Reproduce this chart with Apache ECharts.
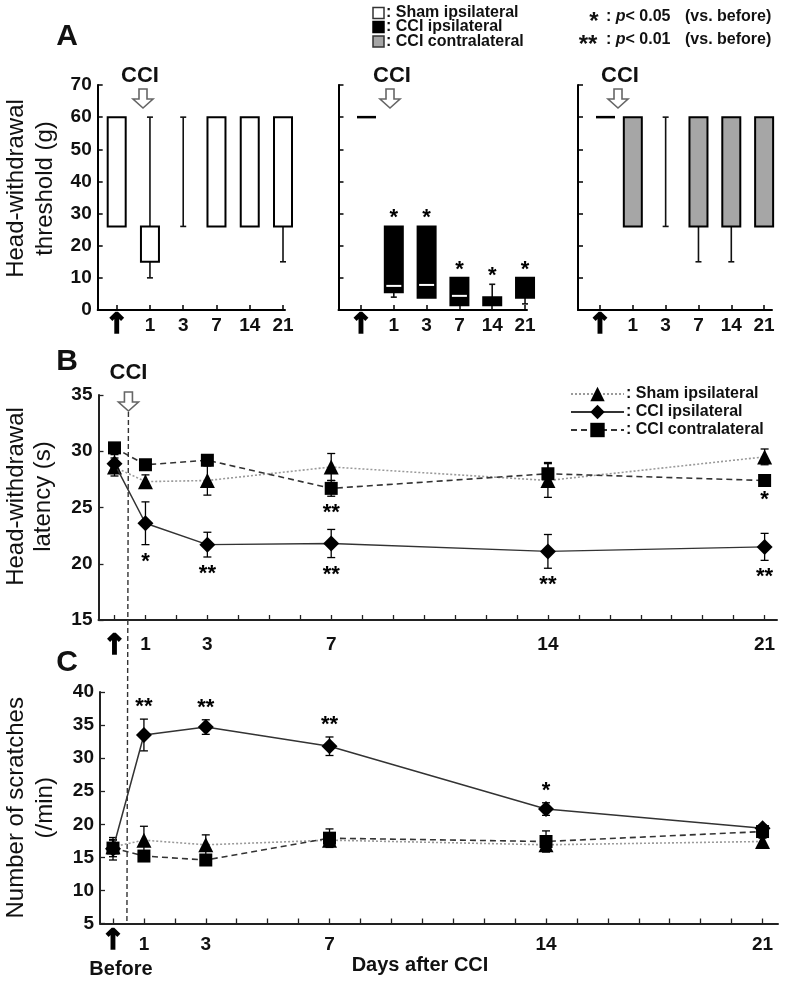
<!DOCTYPE html>
<html><head><meta charset="utf-8">
<script src="https://cdn.jsdelivr.net/npm/echarts@6/dist/echarts.min.js"></script>
<style>html,body{margin:0;padding:0;background:#fff}#c{width:787px;height:985px}</style>
</head><body><div id="c"></div>
<script>
const FONT = '"Liberation Sans", Arial, sans-serif';
// ---------- Panel A (box plots) ----------
const aCategories = ['Before', '1', '3', '7', '14', '21'];
const aTickLabels = ['↑', '1', '3', '7', '14', '21'];
// each row: [min, Q1, median, Q3, max]
const shamA = [[26,26,60,60,60],[10,15,26,26,60],[26,60,60,60,60],[26,26,60,60,60],[26,26,60,60,60],[15,26,60,60,60]];
const cciIpsiA = [[60,60,60,60,60],[4,5.5,7.5,26,26],[3.8,3.8,7.8,26,26],[1.5,1.5,4.4,10,10],[1.5,1.5,4,4,8],[1.9,3.8,10,10,10]];
const cciContraA = [[60,60,60,60,60],[26,26,60,60,60],[26,60,60,60,60],[15,26,60,60,60],[15,26,60,60,60],[26,26,60,60,60]];
const sigShamA = ['', '', '', '', '', ''];
const sigIpsiA = ['', '*', '*', '*', '*', '*'];
const sigContraA = ['', '', '', '', '', ''];
// ---------- Panels B and C (mean ± SEM) ----------
const days = [0, 1, 3, 7, 14, 21];
const dayTicks = [0,1,2,3,4,5,6,7,8,9,10,11,12,13,14,15,16,17,18,19,20,21];
const dayLabels = [0, 1, 3, 7, 14, 21];
const bShamMean = [28.6, 27.3, 27.4, 28.6, 27.4, 29.5];
const bShamErr = [0.8, 0.6, 1.3, 1.2, 1.5, 0.7];
const bIpsiMean = [28.9, 23.6, 21.7, 21.8, 21.1, 21.5];
const bIpsiErr = [0.8, 1.9, 1.1, 1.25, 1.5, 1.2];
const bContraMean = [30.3, 28.8, 29.2, 26.7, 28.0, 27.4];
const bContraErr = [0.3, 0.3, 0.2, 0.7, 1.0, 0.2];
const bShamSig = ['', '', '', '', '', ''];
const bIpsiSig = ['', '*', '**', '**', '**', '**'];
const bContraSig = ['', '', '', '**', '', '*'];
const cShamMean = [16.6, 17.6, 16.9, 17.6, 16.9, 17.4];
const cShamErr = [1.0, 2.1, 1.5, 0.8, 1.0, 0.5];
const cIpsiMean = [16.3, 33.5, 34.7, 31.8, 22.3, 19.4];
const cIpsiErr = [1.7, 2.4, 1.1, 1.4, 0.95, 0.5];
const cContraMean = [16.4, 15.2, 14.6, 17.9, 17.4, 18.9];
const cContraErr = [1.3, 0.5, 0.6, 1.4, 1.6, 0.6];
const cShamSig = ['', '', '', '', '', ''];
const cIpsiSig = ['', '**', '**', '**', '*', ''];
const cContraSig = ['', '', '', '', '', ''];
const seriesNames = ['Sham ipsilateral', 'CCI ipsilateral', 'CCI contralateral'];
const cciMarkDay = 0.45;

const chart = echarts.init(document.getElementById('c'), null, {renderer: 'canvas'});

function boxRender(o, sig) {
  return function (params, api) {
    const x = api.value(0);
    const mn = api.value(1), q1 = api.value(2), md = api.value(3), q3 = api.value(4), mx = api.value(5);
    const c = v => api.coord([x, v]);
    const cx = c(mn)[0];
    const yMn = c(mn)[1], yQ1 = c(q1)[1], yMd = c(md)[1], yQ3 = c(q3)[1], yMx = c(mx)[1];
    const hw = o.boxWidth / 2, cw = 3;
    const ls = {stroke: '#111', lineWidth: 1.6};
    const ch = [];
    const seg = (x1, y1, x2, y2, st) => ch.push({type: 'line', shape: {x1, y1, x2, y2}, style: st});
    if (mx === mn) {
      seg(cx - 4, yMx, cx + 15, yMx, {stroke: '#000', lineWidth: 2.5});
    } else {
      if (mx > q3) { seg(cx, yQ3, cx, yMx, ls); seg(cx - cw, yMx, cx + cw, yMx, ls); }
      if (mn < q1) { seg(cx, yQ1, cx, yMn, ls); seg(cx - cw, yMn, cx + cw, yMn, ls); }
      if (q3 > q1) {
        ch.push({type: 'rect', shape: {x: cx - hw, y: yQ3, width: 2 * hw, height: yQ1 - yQ3},
          style: {fill: o.fill, stroke: '#000', lineWidth: 2}});
        if (md > q1 && md < q3) seg(cx - hw + 1.5, yMd, cx + hw - 1.5, yMd, {stroke: o.median, lineWidth: 2});
      } else {
        seg(cx - cw, yQ1, cx + cw, yQ1, ls);
      }
    }
    const s = sig[params.dataIndex];
    if (s) ch.push({type: 'text', x: cx, y: yMx - 8,
      style: {text: s, fill: '#000', font: 'bold 22px ' + FONT, align: 'center', verticalAlign: 'middle'}});
    return {type: 'group', children: ch};
  };
}

function errRender(sig, place) {
  return function (params, api) {
    const x = api.value(0), m = api.value(1), e = api.value(2);
    const top = api.coord([x, m + e]), bot = api.coord([x, m - e]);
    const cx = top[0], cw = 4;
    const st = {stroke: '#000', lineWidth: 1.3};
    const ch = [
      {type: 'line', shape: {x1: cx, y1: top[1], x2: cx, y2: bot[1]}, style: st},
      {type: 'line', shape: {x1: cx - cw, y1: top[1], x2: cx + cw, y2: top[1]}, style: st},
      {type: 'line', shape: {x1: cx - cw, y1: bot[1], x2: cx + cw, y2: bot[1]}, style: st}
    ];
    const s = sig[params.dataIndex];
    if (s) {
      const y = place === 'below' ? bot[1] + 17 : top[1] - 12;
      ch.push({type: 'text', x: cx, y: y,
        style: {text: s, fill: '#000', font: 'bold 22px ' + FONT, align: 'center', verticalAlign: 'middle'}});
    }
    return {type: 'group', children: ch};
  };
}

const grids = [
  {left: 97.7, top: 85, width: 187.3, height: 225},
  {left: 338.5, top: 85, width: 188.5, height: 225},
  {left: 578, top: 85, width: 194, height: 225},
  {left: 98.5, top: 395, width: 678.5, height: 225},
  {left: 100, top: 692, width: 678, height: 231.5}
].map(g => Object.assign({outerBoundsMode: 'none', containLabel: false}, g));
const aRange = [[-0.571, 5.06], [-0.686, 5.06], [-0.67, 5.24]];

const xAxes = [], yAxes = [];
const tickLbl = {fontFamily: FONT, fontSize: 19, fontWeight: 'bold', color: '#111'};
const arrowRich = {fontFamily: 'DejaVu Sans', fontSize: 28, fontWeight: 'bold', color: '#000', textBorderColor: '#000', textBorderWidth: 1.6};
for (let g = 0; g < 3; g++) {
  xAxes.push({type: 'value', gridIndex: g, min: aRange[g][0], max: aRange[g][1],
    axisLine: {show: true, onZero: false, lineStyle: {color: '#000', width: 2}},
    axisTick: {show: true, inside: true, length: 5, customValues: [0,1,2,3,4,5], lineStyle: {color: '#000', width: 1.5}},
    axisLabel: {show: true, customValues: [0,1,2,3,4,5], margin: 4, hideOverlap: false,
      formatter: v => v === 0 ? '{arr|' + aTickLabels[0] + '}' : '{n|' + aTickLabels[v] + '}',
      rich: {arr: Object.assign({lineHeight: 24}, arrowRich),
             n: Object.assign({lineHeight: 24}, tickLbl)}},
    splitLine: {show: false}});
  yAxes.push({type: 'value', gridIndex: g, min: 0, max: 70, interval: 10,
    name: g === 0 ? 'Head-withdrawal\nthreshold (g)' : '', nameLocation: 'middle', nameGap: 38, nameRotate: 90,
    nameTextStyle: {fontFamily: FONT, fontSize: 24, color: '#111', lineHeight: 29, padding: [0, 0, 0, 18]},
    axisLine: {show: true, onZero: false, lineStyle: {color: '#000', width: 2}},
    axisTick: {show: true, inside: true, length: 5, lineStyle: {color: '#000', width: 1.5}},
    axisLabel: Object.assign({show: g === 0, margin: 6}, tickLbl),
    splitLine: {show: false}});
}
// B
xAxes.push({type: 'value', gridIndex: 3, min: -0.517, max: 21.4,
  axisLine: {show: true, onZero: false, lineStyle: {color: '#222', width: 2}},
  axisTick: {show: true, inside: true, length: 5, customValues: dayTicks, lineStyle: {color: '#222', width: 1.3}},
  axisLabel: {show: true, customValues: dayLabels, margin: 4, hideOverlap: false,
    formatter: v => v === 0 ? '{arr|↑}' : '{n|' + v + '}',
    rich: {arr: Object.assign({lineHeight: 46}, arrowRich),
           n: Object.assign({lineHeight: 42}, tickLbl)}},
  splitLine: {show: false}});
yAxes.push({type: 'value', gridIndex: 3, min: 15, max: 35, interval: 5,
  name: 'Head-withdrawal\nlatency (s)', nameLocation: 'middle', nameGap: 42, nameRotate: 90,
  nameTextStyle: {fontFamily: FONT, fontSize: 24, color: '#111', lineHeight: 27, padding: [0, 0, 0, 22]},
  axisLine: {show: true, onZero: false, lineStyle: {color: '#222', width: 2}},
  axisTick: {show: true, inside: true, length: 5, lineStyle: {color: '#222', width: 1.3}},
  axisLabel: Object.assign({margin: 6}, tickLbl),
  splitLine: {show: false}});
// C
xAxes.push({type: 'value', gridIndex: 4, min: -0.42, max: 21.5,
  axisLine: {show: true, onZero: false, lineStyle: {color: '#222', width: 2}},
  axisTick: {show: true, inside: true, length: 5, customValues: dayTicks, lineStyle: {color: '#222', width: 1.3}},
  axisLabel: {show: true, customValues: dayLabels, margin: 4, hideOverlap: false,
    formatter: v => v === 0 ? '{arr|↑}' : '{n|' + v + '}',
    rich: {arr: Object.assign({lineHeight: 28}, arrowRich),
           n: Object.assign({lineHeight: 34}, tickLbl)}},
  splitLine: {show: false}});
yAxes.push({type: 'value', gridIndex: 4, min: 5, max: 40, interval: 5,
  name: 'Number of scratches\n(/min)', nameLocation: 'middle', nameGap: 40, nameRotate: 90,
  nameTextStyle: {fontFamily: FONT, fontSize: 24, color: '#111', lineHeight: 29},
  axisLine: {show: true, onZero: false, lineStyle: {color: '#222', width: 2}},
  axisTick: {show: true, inside: true, length: 5, lineStyle: {color: '#222', width: 1.3}},
  axisLabel: Object.assign({margin: 6}, tickLbl),
  splitLine: {show: false}});

const series = [];
const boxSets = [
  [shamA, sigShamA, {fill: '#fff', median: '#000', boxWidth: 18}],
  [cciIpsiA, sigIpsiA, {fill: '#000', median: '#fff', boxWidth: 18}],
  [cciContraA, sigContraA, {fill: '#a6a6a6', median: '#000', boxWidth: 18}]
];
boxSets.forEach((b, g) => {
  series.push({type: 'custom', name: seriesNames[g] + ' A', xAxisIndex: g, yAxisIndex: g,
    data: b[0].map((r, i) => [i].concat(r)), renderItem: boxRender(b[2], b[1]),
    silent: true, animation: false, z: 2});
});

const lineDefs = [
  {sym: 'triangle', size: 15, ls: {color: '#9a9a9a', width: 1.6, type: [2, 2]}},
  {sym: 'diamond', size: 16, ls: {color: '#333', width: 1.5, type: 'solid'}},
  {sym: 'rect', size: 13, ls: {color: '#333', width: 1.6, type: [6, 4]}}
];
const panels = [
  {g: 3, means: [bShamMean, bIpsiMean, bContraMean], errs: [bShamErr, bIpsiErr, bContraErr], sigs: [bShamSig, bIpsiSig, bContraSig], place: 'below'},
  {g: 4, means: [cShamMean, cIpsiMean, cContraMean], errs: [cShamErr, cIpsiErr, cContraErr], sigs: [cShamSig, cIpsiSig, cContraSig], place: 'above'}
];
panels.forEach(p => {
  for (let k = 0; k < 3; k++) {
    series.push({type: 'custom', name: seriesNames[k] + ' err', xAxisIndex: p.g, yAxisIndex: p.g,
      data: days.map((d, i) => [d, p.means[k][i], p.errs[k][i]]),
      renderItem: errRender(p.sigs[k], p.place), silent: true, animation: false, z: 2});
  }
  for (let k = 0; k < 3; k++) {
    series.push({type: 'line', name: seriesNames[k], xAxisIndex: p.g, yAxisIndex: p.g,
      data: days.map((d, i) => [d, p.means[k][i]]),
      symbol: lineDefs[k].sym, symbolSize: lineDefs[k].size, showSymbol: true,
      itemStyle: {color: '#000'}, lineStyle: lineDefs[k].ls,
      animation: false, silent: true, z: 3 + k});
  }
});

chart.setOption({
  backgroundColor: '#fff',
  animation: false,
  grid: grids,
  xAxis: xAxes,
  yAxis: yAxes,
  legend: {data: seriesNames, orient: 'vertical', left: 565, top: 381, itemWidth: 53, itemHeight: 18, itemGap: 2,
    formatter: n => ': ' + n, selectedMode: false,
    textStyle: {fontFamily: FONT, fontSize: 16, fontWeight: 'bold', color: '#111', padding: [0, 0, 0, -3]}},
  series: series
});

// annotations
function hollowArrow(cx, ty) {
  return {type: 'polygon', shape: {points: [[cx - 4, ty], [cx + 4, ty], [cx + 4, ty + 10], [cx + 10, ty + 10], [cx, ty + 19], [cx - 10, ty + 10], [cx - 4, ty + 10]]},
    style: {fill: '#fff', stroke: '#666', lineWidth: 1.6}};
}
function txt(x, y, t, font, align, extra) {
  return Object.assign({type: 'text', x: x, y: y, style: Object.assign({text: t, font: font, fill: '#111', align: align || 'left', verticalAlign: 'middle'}, extra || {})});
}
const big = 'bold 30px ' + FONT, cci = 'bold 22px ' + FONT, lg = 'bold 16px ' + FONT;
const pB = chart.convertToPixel({gridIndex: 3}, [cciMarkDay, 35]);
const pC = chart.convertToPixel({gridIndex: 4}, [cciMarkDay, 5]);
const pBefore = chart.convertToPixel({gridIndex: 4}, [0, 5]);
const gfx = [
  txt(67, 37, 'A', big, 'center'),
  txt(67, 362, 'B', big, 'center'),
  txt(67, 663, 'C', big, 'center'),
  txt(140, 76, 'CCI', cci, 'center'), hollowArrow(143, 89),
  txt(392, 76, 'CCI', cci, 'center'), hollowArrow(390, 89),
  txt(620, 76, 'CCI', cci, 'center'), hollowArrow(618, 89),
  txt(pB[0], 373, 'CCI', cci, 'center'), hollowArrow(pB[0], 392),
  {type: 'line', shape: {x1: pB[0], y1: 412, x2: pC[0], y2: pC[1]}, style: {stroke: '#333', lineWidth: 1.4, lineDash: [5, 3]}, z: 1},
  {type: 'rect', shape: {x: 373, y: 7.5, width: 11, height: 11}, style: {fill: '#fff', stroke: '#333', lineWidth: 1.5}},
  {type: 'rect', shape: {x: 373, y: 21.5, width: 11, height: 11}, style: {fill: '#000', stroke: '#000', lineWidth: 1.5}},
  {type: 'rect', shape: {x: 373, y: 36, width: 11, height: 11}, style: {fill: '#a6a6a6', stroke: '#333', lineWidth: 1.5}},
  txt(386, 13, ': Sham ipsilateral', lg),
  txt(386, 27, ': CCI ipsilateral', lg),
  txt(386, 41.5, ': CCI contralateral', lg),
  txt(594, 22, '*', 'bold 24px ' + FONT, 'center'),
  txt(588, 45, '**', 'bold 24px ' + FONT, 'center'),
  {type: 'text', x: 606, y: 17, style: {text: '{b|: }{i|p}{b|< 0.05}', verticalAlign: 'middle', rich: {b: {font: lg, fill: '#111'}, i: {font: 'italic bold 16px ' + FONT, fill: '#111'}}}},
  {type: 'text', x: 606, y: 40, style: {text: '{b|: }{i|p}{b|< 0.01}', verticalAlign: 'middle', rich: {b: {font: lg, fill: '#111'}, i: {font: 'italic bold 16px ' + FONT, fill: '#111'}}}},
  txt(685, 17, '(vs. before)', lg),
  txt(685, 40, '(vs. before)', lg),
  txt(pBefore[0] + 8, 969, 'Before', 'bold 20px ' + FONT, 'center'),
  txt(420, 965, 'Days after CCI', 'bold 20px ' + FONT, 'center')
];
chart.setOption({graphic: {elements: gfx}});
</script>
</body></html>
